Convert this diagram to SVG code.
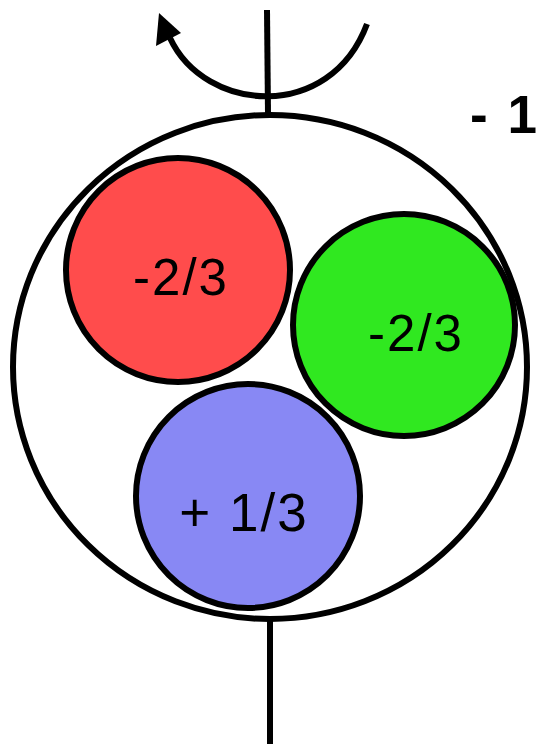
<svg xmlns="http://www.w3.org/2000/svg" width="539" height="744" viewBox="0 0 539 744">
<style>
.ring{fill:none;stroke:#000;stroke-width:6}
.q{stroke:#000;stroke-width:6}
.lbl{font-family:"Liberation Sans",Arial,sans-serif;font-size:51px;letter-spacing:2px;fill:#000;text-anchor:middle}
.ax{stroke:#000;stroke-width:6;fill:none}
</style>
<rect width="539" height="744" fill="#fff"/>
<g id="connectors">
<line class="ax" x1="267" y1="10" x2="268" y2="114"/>
<line class="ax" x1="270" y1="619" x2="270" y2="744"/>
<path class="ax" d="M170 38 C 205 113, 330 123, 367 24"/>
<polygon points="159,13 156,46 181,33" fill="#000"/>
</g>
<g id="nucleon">
<ellipse class="ring" cx="270" cy="367" rx="257" ry="252"/>
</g>
<g id="quark-red">
<circle class="q" cx="178" cy="270" r="112" fill="#FF4C4C"/>
<text class="lbl" x="181" y="295">-2/3</text>
</g>
<g id="quark-green">
<circle class="q" cx="404" cy="325" r="111" fill="#30E820"/>
<text class="lbl" x="416" y="351">-2/3</text>
</g>
<g id="quark-blue">
<circle class="q" cx="248" cy="496" r="112" fill="#8888F4"/>
<text class="lbl" x="244" y="531" style="font-size:53px">+ 1/3</text>
</g>
<g id="charge">
<text x="470" y="133" style="font-family:'Liberation Sans',Arial,sans-serif;font-size:53px;font-weight:bold;fill:#000">- <tspan dx="5">1</tspan></text>
</g>
</svg>
